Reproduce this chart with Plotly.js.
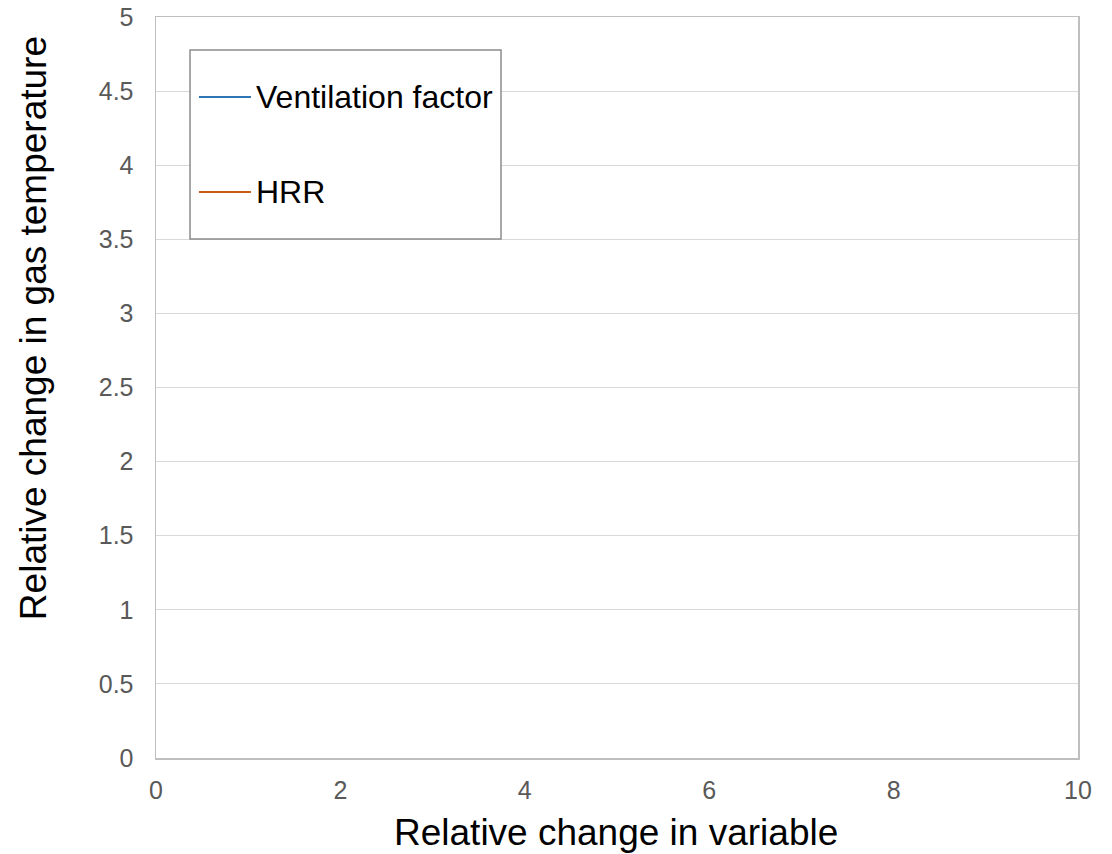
<!DOCTYPE html>
<html>
<head>
<meta charset="utf-8">
<script src="https://cdn.plot.ly/plotly-3.0.1.min.js"></script>
<style>
  html, body { margin: 0; padding: 0; background: #ffffff; }
  #chart { width: 1112px; height: 854px; }
</style>
</head>
<body>
<div id="chart"></div>
<script>
// Series: relative change in gas temperature vs relative change in each variable
const relChange = [];          // x values (relative change in variable)
const ventTemp = [];           // y values for the ventilation factor series
const hrrTemp = [];            // y values for the HRR series

const seriesNames = ["Ventilation factor", "HRR"];
const seriesColors = ["#2e75b6", "#c55a11"];

const xTicks = [0, 2, 4, 6, 8, 10];
const yTicks = [0, 0.5, 1, 1.5, 2, 2.5, 3, 3.5, 4, 4.5, 5];

const traces = [
  { x: relChange, y: ventTemp, name: seriesNames[0], type: "scatter", mode: "lines",
    line: { color: seriesColors[0], width: 2 }, showlegend: false },
  { x: relChange, y: hrrTemp, name: seriesNames[1], type: "scatter", mode: "lines",
    line: { color: seriesColors[1], width: 2 }, showlegend: false }
];

const FONT = "Liberation Sans, Arial, sans-serif";

// Framed legend box drawn in paper coordinates
const legendBox = { x0: 0.0369, x1: 0.3742, y0: 0.7004, y1: 0.9555 };
const legendRows = [0.8920, 0.7638];
const sampleX = [0.0466, 0.1030];
const labelX = 0.1063;

const shapes = [
  { type: "rect", xref: "paper", yref: "paper",
    x0: legendBox.x0, x1: legendBox.x1, y0: legendBox.y0, y1: legendBox.y1,
    line: { color: "#8c8c8c", width: 1.5 }, fillcolor: "#ffffff", layer: "above" }
];
const annotations = [
  { text: "Relative change in variable", xref: "paper", yref: "paper",
    x: 0.4985, y: -0.1296, xanchor: "center", yanchor: "bottom", showarrow: false,
    borderpad: 0,
    font: { family: FONT, size: 37, color: "#000000" } },
  { text: "Relative change in gas temperature", xref: "paper", yref: "paper",
    x: -0.1335, y: 0.580, xanchor: "center", yanchor: "middle", showarrow: false,
    textangle: -90,
    font: { family: FONT, size: 37, color: "#000000" } }
];
seriesNames.forEach((name, i) => {
  shapes.push({ type: "line", xref: "paper", yref: "paper",
    x0: sampleX[0], x1: sampleX[1], y0: legendRows[i], y1: legendRows[i],
    line: { color: seriesColors[i], width: 2 }, layer: "above" });
  annotations.push({ text: name, xref: "paper", yref: "paper",
    x: labelX, y: legendRows[i], xanchor: "left", yanchor: "middle", showarrow: false,
    font: { family: FONT, size: 32, color: "#000000" } });
});

const axisCommon = {
  showgrid: true,
  gridcolor: "#d9d9d9",
  gridwidth: 1,
  zeroline: false,
  showline: true,
  mirror: true,
  linecolor: "#bfbfbf",
  linewidth: 1.5,
  ticks: "",
  tickfont: { family: FONT, size: 25, color: "#595959" },
  fixedrange: true
};

const layout = {
  width: 1112,
  height: 854,
  margin: { l: 156, r: 34, t: 17, b: 96 },
  paper_bgcolor: "#ffffff",
  plot_bgcolor: "#ffffff",
  showlegend: false,
  xaxis: Object.assign({}, axisCommon, {
    range: [0, 10], tickmode: "array", tickvals: xTicks, ticktext: xTicks.map(String),
    showgrid: false, ticklabelstandoff: 9
  }),
  yaxis: Object.assign({}, axisCommon, {
    range: [0, 5], tickmode: "array", tickvals: yTicks, ticktext: yTicks.map(String),
    ticklabelstandoff: 16
  }),
  shapes: shapes,
  annotations: annotations
};

Plotly.newPlot("chart", traces, layout, { displayModeBar: false, staticPlot: true });
</script>
</body>
</html>
